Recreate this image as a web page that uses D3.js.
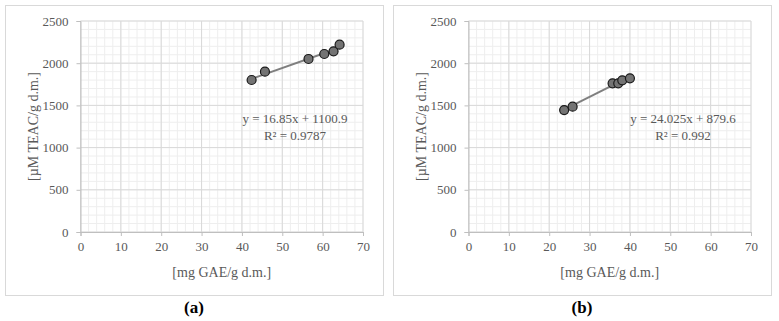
<!DOCTYPE html>
<html>
<head>
<meta charset="utf-8">
<script src="https://cdn.jsdelivr.net/npm/d3@7"></script>
<style>
  body { margin: 0; background: #fff; }
  text { font-family: "Liberation Serif", serif; }
</style>
</head>
<body>
<div id="chart"></div>
<script>
// data
const xA = [42.4, 45.7, 56.5, 60.4, 62.7, 64.2]
const yA = [1801, 1899, 2050, 2109, 2141, 2219]
const xB = [23.7, 25.8, 35.7, 37.1, 38.1, 40.0]
const yB = [1445, 1485, 1762, 1762, 1797, 1821]
const fitA = { slope: 16.85, intercept: 1100.9, eq: "y = 16.85x + 1100.9", r2: "R² = 0.9787" }
const fitB = { slope: 24.025, intercept: 879.6, eq: "y = 24.025x + 879.6", r2: "R² = 0.992" }
const xTicks = [0, 10, 20, 30, 40, 50, 60, 70]
const yTicks = [0, 500, 1000, 1500, 2000, 2500]
const xLabel = "[mg GAE/g d.m.]"
const yLabel = "[µM TEAC/g d.m.]"

const width = 779
const height = 321

const svg = d3.select("#chart")
  .append("svg")
    .attr("width", width)
    .attr("height", height)

function panel(ox, xs, ys, fit, caption) {
  const g = svg.append("g").attr("transform", `translate(${ox},0)`)

  // outer frame
  g.append("rect")
    .attr("x", 5.5).attr("y", 5.5)
    .attr("width", 378).attr("height", 290)
    .attr("fill", "white")
    .attr("stroke", "#d9d9d9")

  const x = d3.scaleLinear().domain([0, 70]).range([80.5, 363])
  const y = d3.scaleLinear().domain([0, 2500]).range([232, 21])

  // minor grid
  g.append("g").selectAll("line")
    .data(d3.range(0, 70.1, 2))
    .join("line")
    .attr("x1", d => x(d)).attr("x2", d => x(d))
    .attr("y1", y(0)).attr("y2", y(2500))
    .attr("stroke", "#eeeeee")
  g.append("g").selectAll("line")
    .data(d3.range(0, 2501, 100))
    .join("line")
    .attr("x1", x(0)).attr("x2", x(70))
    .attr("y1", d => y(d)).attr("y2", d => y(d))
    .attr("stroke", "#eeeeee")

  // major grid
  g.append("g").selectAll("line")
    .data(xTicks)
    .join("line")
    .attr("x1", d => x(d)).attr("x2", d => x(d))
    .attr("y1", y(0)).attr("y2", y(2500))
    .attr("stroke", "#d9d9d9")
  g.append("g").selectAll("line")
    .data(yTicks)
    .join("line")
    .attr("x1", x(0)).attr("x2", x(70))
    .attr("y1", d => y(d)).attr("y2", d => y(d))
    .attr("stroke", "#d9d9d9")

  // axes
  const xAxis = g.append("g")
    .attr("transform", `translate(0,${y(0)})`)
    .call(d3.axisBottom(x).tickValues(xTicks).tickFormat(d3.format("d")).tickSize(4).tickPadding(6))
  const yAxis = g.append("g")
    .attr("transform", `translate(${x(0)},0)`)
    .call(d3.axisLeft(y).tickValues(yTicks).tickFormat(d3.format("d")).tickSize(4).tickPadding(8))
  ;[xAxis, yAxis].forEach(a => {
    a.select(".domain").attr("stroke", "#bfbfbf")
    a.selectAll(".tick line").attr("stroke", "#bfbfbf")
    a.selectAll(".tick text")
      .attr("fill", "#595959")
      .style("font-family", "Liberation Serif, serif")
      .style("font-size", "13px")
  })

  // axis titles
  g.append("text")
    .attr("x", (x(0) + x(70)) / 2).attr("y", 277)
    .attr("text-anchor", "middle")
    .attr("fill", "#595959")
    .style("font-size", "14px")
    .text(xLabel)
  g.append("text")
    .attr("transform", `translate(38,${(y(0) + y(2500)) / 2}) rotate(-90)`)
    .attr("text-anchor", "middle")
    .attr("fill", "#595959")
    .style("font-size", "14px")
    .text(yLabel)

  // trend line
  const x0 = d3.min(xs), x1 = d3.max(xs)
  g.append("line")
    .attr("x1", x(x0)).attr("y1", y(fit.slope * x0 + fit.intercept))
    .attr("x2", x(x1)).attr("y2", y(fit.slope * x1 + fit.intercept))
    .attr("stroke", "#7f7f7f")
    .attr("stroke-width", 2)

  // points
  g.append("g").selectAll("circle")
    .data(xs.map((d, i) => [d, ys[i]]))
    .join("circle")
    .attr("cx", d => x(d[0]))
    .attr("cy", d => y(d[1]))
    .attr("r", 4.5)
    .attr("fill", "#737373")
    .attr("stroke", "#1a1a1a")
    .attr("stroke-width", 1.2)

  // equation label
  g.append("text")
    .attr("x", 295).attr("y", 123)
    .attr("text-anchor", "middle")
    .attr("fill", "#595959")
    .style("font-size", "13px")
    .text(fit.eq)
  g.append("text")
    .attr("x", 295).attr("y", 140)
    .attr("text-anchor", "middle")
    .attr("fill", "#595959")
    .style("font-size", "13px")
    .text(fit.r2)

  // caption
  g.append("text")
    .attr("x", 194).attr("y", 313)
    .attr("text-anchor", "middle")
    .attr("fill", "#000")
    .style("font-size", "17px")
    .style("font-weight", "bold")
    .text(caption)
}

panel(0, xA, yA, fitA, "(a)")
panel(388, xB, yB, fitB, "(b)")
</script>
</body>
</html>
